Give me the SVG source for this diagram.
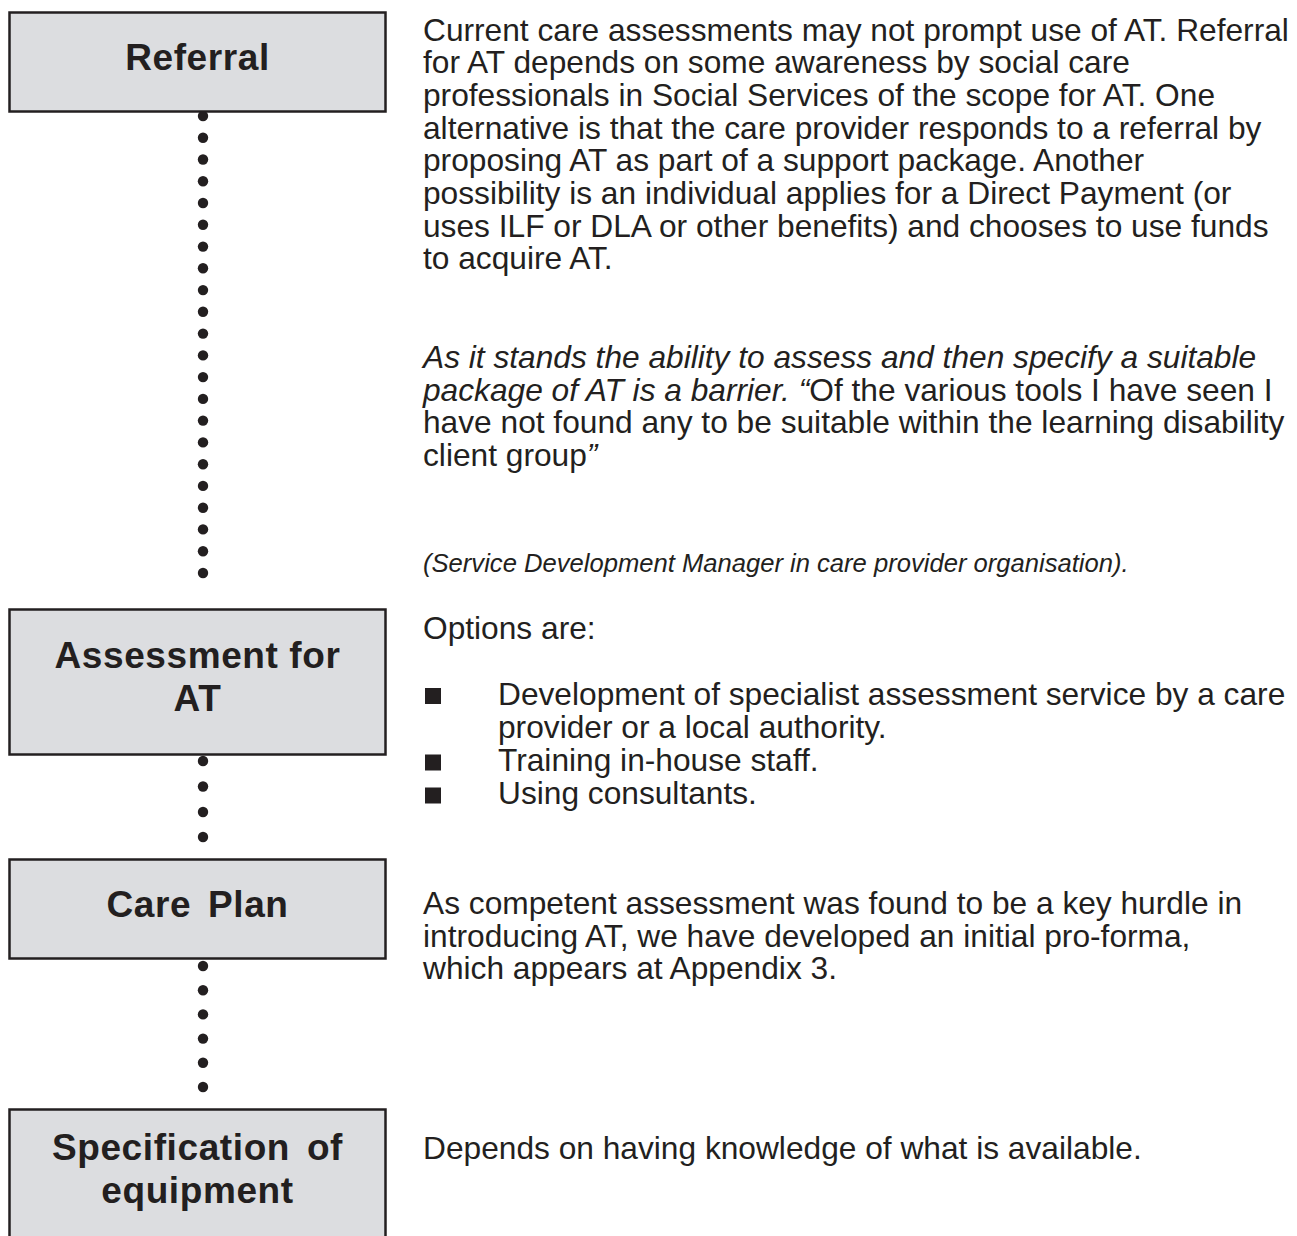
<svg xmlns="http://www.w3.org/2000/svg" width="1297" height="1236" viewBox="0 0 1297 1236">
<style>
.box{fill:#dcdde0;stroke:#231f20;stroke-width:2.5}
.title{font-family:"Liberation Sans",Arial,sans-serif;font-weight:bold;font-size:37px;fill:#231f20;text-anchor:middle;letter-spacing:0.6px}
.body{font-family:"Liberation Sans",Arial,sans-serif;font-size:31.7px;fill:#231f20}
.it{font-style:italic}
.src{font-family:"Liberation Sans",Arial,sans-serif;font-size:25.6px;font-style:italic;fill:#231f20}
.dot{fill:#231f20}
.bullet{fill:#231f20}
</style>
<rect width="1297" height="1236" fill="#ffffff"/>
<g id="connectors">
<g id="dots-referral-assessment" class="dot">
<circle cx="203" cy="116" r="5.2"/><circle cx="203" cy="137.8" r="5.2"/><circle cx="203" cy="159.5" r="5.2"/><circle cx="203" cy="181.3" r="5.2"/><circle cx="203" cy="203" r="5.2"/><circle cx="203" cy="224.8" r="5.2"/><circle cx="203" cy="246.6" r="5.2"/><circle cx="203" cy="268.3" r="5.2"/><circle cx="203" cy="290.1" r="5.2"/><circle cx="203" cy="311.8" r="5.2"/><circle cx="203" cy="333.6" r="5.2"/><circle cx="203" cy="355.4" r="5.2"/><circle cx="203" cy="377.1" r="5.2"/><circle cx="203" cy="398.9" r="5.2"/><circle cx="203" cy="420.6" r="5.2"/><circle cx="203" cy="442.4" r="5.2"/><circle cx="203" cy="464.2" r="5.2"/><circle cx="203" cy="485.9" r="5.2"/><circle cx="203" cy="507.7" r="5.2"/><circle cx="203" cy="529.4" r="5.2"/><circle cx="203" cy="551.2" r="5.2"/><circle cx="203" cy="573" r="5.2"/>
</g>
<g id="dots-assessment-careplan" class="dot">
<circle cx="203" cy="761" r="5.2"/><circle cx="203" cy="786.5" r="5.2"/><circle cx="203" cy="812" r="5.2"/><circle cx="203" cy="837" r="5.2"/>
</g>
<g id="dots-careplan-specification" class="dot">
<circle cx="203" cy="966" r="5.2"/><circle cx="203" cy="990.2" r="5.2"/><circle cx="203" cy="1014.4" r="5.2"/><circle cx="203" cy="1038.6" r="5.2"/><circle cx="203" cy="1062.8" r="5.2"/><circle cx="203" cy="1087" r="5.2"/>
</g>
</g>
<g id="node-referral">
<rect class="box" x="9.5" y="12.5" width="376" height="99"/>
<text class="title" x="197.5" y="70">Referral</text>
</g>
<g id="node-assessment">
<rect class="box" x="9.5" y="609.5" width="376" height="145"/>
<text class="title" x="197.5" y="668">Assessment for</text>
<text class="title" x="197.5" y="711">AT</text>
</g>
<g id="node-careplan">
<rect class="box" x="9.5" y="859.5" width="376" height="99"/>
<text class="title" x="197.5" y="917" style="word-spacing:6px">Care Plan</text>
</g>
<g id="node-specification">
<rect class="box" x="9.5" y="1109.5" width="376" height="140"/>
<text class="title" x="197.5" y="1160" style="word-spacing:6px">Specification of</text>
<text class="title" x="197.5" y="1203">equipment</text>
</g>
<g id="text-referral">
<text class="body" x="423" y="40.5">Current care assessments may not prompt use of AT. Referral</text>
<text class="body" x="423" y="73.2">for AT depends on some awareness by social care</text>
<text class="body" x="423" y="105.9">professionals in Social Services of the scope for AT. One</text>
<text class="body" x="423" y="138.6">alternative is that the care provider responds to a referral by</text>
<text class="body" x="423" y="171.3">proposing AT as part of a support package. Another</text>
<text class="body" x="423" y="204">possibility is an individual applies for a Direct Payment (or</text>
<text class="body" x="423" y="236.7">uses ILF or DLA or other benefits) and chooses to use funds</text>
<text class="body" x="423" y="269.4">to acquire AT.</text>
<text class="body it" x="423" y="367.8">As it stands the ability to assess and then specify a suitable</text>
<text class="body" x="423" y="400.5"><tspan class="it">package of AT is a barrier. “</tspan>Of the various tools I have seen I</text>
<text class="body" x="423" y="433.2">have not found any to be suitable within the learning disability</text>
<text class="body" x="423" y="465.9">client group<tspan class="it">”</tspan></text>
<text class="src" x="423" y="572">(Service Development Manager in care provider organisation).</text>
</g>
<g id="text-assessment">
<text class="body" x="423" y="638.5">Options are:</text>
<rect class="bullet" x="425" y="688" width="16" height="16"/>
<text class="body" x="498" y="704.5">Development of specialist assessment service by a care</text>
<text class="body" x="498" y="737.5">provider or a local authority.</text>
<rect class="bullet" x="425" y="754.5" width="16" height="16"/>
<text class="body" x="498" y="771">Training in-house staff.</text>
<rect class="bullet" x="425" y="787.5" width="16" height="16"/>
<text class="body" x="498" y="804">Using consultants.</text>
</g>
<g id="text-careplan">
<text class="body" x="423" y="914">As competent assessment was found to be a key hurdle in</text>
<text class="body" x="423" y="946.7">introducing AT, we have developed an initial pro-forma,</text>
<text class="body" x="423" y="979.4">which appears at Appendix 3.</text>
</g>
<g id="text-specification">
<text class="body" x="423" y="1159">Depends on having knowledge of what is available.</text>
</g>
</svg>
